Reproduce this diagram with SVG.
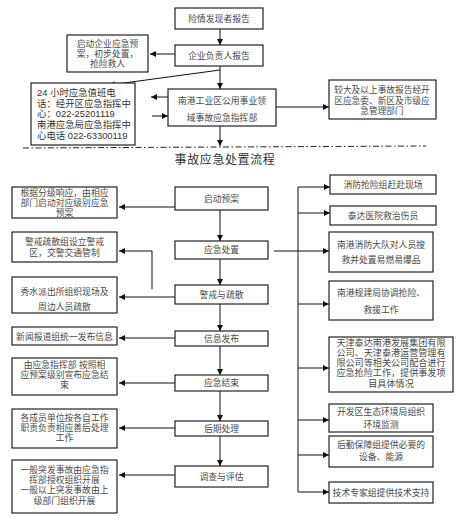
<svg xmlns="http://www.w3.org/2000/svg" width="476" height="518" viewBox="0 0 476 518">
<defs>
<marker id="ah" viewBox="0 0 8 8" refX="8" refY="4" markerWidth="7" markerHeight="6" markerUnits="userSpaceOnUse" orient="auto"><path d="M0,0 L8,4 L0,8 z" fill="#111"/></marker>
<style>
.b{fill:#fff;stroke:#222;stroke-width:1.2}
.t{font-family:"Liberation Sans","Noto Sans CJK SC",sans-serif;font-size:8.8px;fill:#4a4a4a;text-anchor:middle}
.l{text-anchor:start;fill:#333;font-size:9.4px}
.c{fill:none;stroke:#111;stroke-width:1}
.a{marker-end:url(#ah)}
.title{font-family:"Liberation Sans","Noto Sans CJK SC",sans-serif;font-size:12px;fill:#333;text-anchor:middle;letter-spacing:0.6px}
</style>
</defs>
<rect width="476" height="518" fill="#fff"/>
<g id="connectors">
<line class="c a" x1="220" y1="29" x2="220" y2="45"/>
<line class="c a" x1="175" y1="54" x2="150" y2="54"/>
<line class="c a" x1="220" y1="66" x2="220" y2="89"/>
<line class="c a" x1="220" y1="70" x2="109" y2="85"/>
<line class="c a" x1="168" y1="97" x2="151" y2="97"/>
<line class="c a" x1="152" y1="116" x2="168" y2="116"/>
<line class="c a" x1="276" y1="107" x2="329" y2="107"/>
<line class="c a" x1="220" y1="126" x2="220" y2="146"/>
<line x1="23" y1="148" x2="426" y2="146" stroke="#222" stroke-width="1" stroke-dasharray="6 2.5 1.5 2.5"/>
<line class="c a" x1="220" y1="210" x2="220" y2="241"/>
<line class="c a" x1="220" y1="259" x2="220" y2="285"/>
<line class="c a" x1="220" y1="304" x2="220" y2="331"/>
<line class="c a" x1="220" y1="346" x2="220" y2="375"/>
<line class="c a" x1="220" y1="391" x2="220" y2="421"/>
<line class="c a" x1="220" y1="436" x2="220" y2="466"/>
<line class="c a" x1="175" y1="207" x2="119" y2="207"/>
<polyline class="c a" points="152,289 152,251 119,251"/>
<line class="c a" x1="175" y1="297" x2="119" y2="297"/>
<line class="c a" x1="175" y1="338" x2="119" y2="338"/>
<line class="c a" x1="175" y1="383" x2="119" y2="383"/>
<line class="c a" x1="175" y1="428" x2="119" y2="428"/>
<line class="c a" x1="175" y1="475" x2="119" y2="475"/>
<line class="c" x1="298" y1="187" x2="298" y2="492"/>
<line class="c a" x1="298" y1="187" x2="330" y2="187"/>
<line class="c a" x1="298" y1="213" x2="330" y2="213"/>
<line class="c a" x1="274" y1="251" x2="329" y2="251"/>
<line class="c a" x1="298" y1="304" x2="329" y2="304"/>
<line class="c a" x1="298" y1="368" x2="329" y2="368"/>
<line class="c a" x1="298" y1="420" x2="329" y2="420"/>
<line class="c a" x1="298" y1="455" x2="329" y2="455"/>
<line class="c a" x1="298" y1="492" x2="329" y2="492"/>
</g>
<g id="n-report"><rect class="b" x="175" y="8" width="88" height="21"/><text class="t" x="219" y="22">险情发现者报告</text></g>
<g id="n-enterprise"><rect class="b" x="175" y="45" width="88" height="21"/><text class="t" x="219" y="59">企业负责人报告</text></g>
<g id="n-startplan"><rect class="b" x="67" y="35" width="81" height="37"/>
<text class="t" x="107.5" y="46.5">启动企业应急预</text><text class="t" x="107.5" y="56.8">案，初步处置，</text><text class="t" x="107.5" y="67.1">抢险救人</text></g>
<g id="n-hotline"><rect class="b" x="31" y="83" width="104" height="62"/>
<text class="t l" x="37" y="96">24 小时应急值班电</text>
<text class="t l" x="37" y="106.7">话：经开区应急指挥中</text>
<text class="t l" x="37" y="117.4">心：022-25201119</text>
<text class="t l" x="37" y="128.1">南港应急局应急指挥中</text>
<text class="t l" x="37" y="138.8">心电话 022-63300119</text></g>
<g id="n-command"><rect class="b" x="168" y="89" width="108" height="37"/>
<text class="t" x="222" y="103.5">南港工业区公用事业领</text><text class="t" x="222" y="120.5">域事故应急指挥部</text></g>
<g id="n-major"><rect class="b" x="329" y="80" width="107" height="39"/>
<text class="t" x="382" y="93.3" style="font-size:8.7px">较大及以上事故报告经开</text><text class="t" x="382" y="103.5" style="font-size:8.7px">区应急委、新区及市级应</text><text class="t" x="382" y="113.7" style="font-size:8.7px">急管理部门</text></g>
<text class="title" x="225" y="164">事故应急处置流程</text>
<g id="s1"><rect class="b" x="175" y="187" width="93" height="23"/><text class="t" x="221.5" y="201.5">启动预案</text></g>
<g id="s2"><rect class="b" x="175" y="241" width="93" height="18"/><text class="t" x="221.5" y="253">应急处置</text></g>
<g id="s3"><rect class="b" x="175" y="285" width="93" height="19"/><text class="t" x="221.5" y="297.5">警戒与疏散</text></g>
<g id="s4"><rect class="b" x="175" y="331" width="93" height="15"/><text class="t" x="221.5" y="341.5">信息发布</text></g>
<g id="s5"><rect class="b" x="175" y="375" width="93" height="16"/><text class="t" x="221.5" y="386">应急结束</text></g>
<g id="s6"><rect class="b" x="175" y="421" width="93" height="15"/><text class="t" x="221.5" y="431.5">后期处理</text></g>
<g id="s7"><rect class="b" x="175" y="466" width="93" height="21"/><text class="t" x="221.5" y="479.5">调查与评估</text></g>
<g id="l1"><rect class="b" x="12" y="187" width="105" height="31"/>
<text class="t" x="64.5" y="195.5">根据分级响应，由相应</text><text class="t" x="64.5" y="205.6">部门启动对应级别应急</text><text class="t" x="64.5" y="215.7">预案</text></g>
<g id="l2"><rect class="b" x="12" y="232" width="105" height="30"/>
<text class="t" x="64.5" y="245">警戒疏散组设立警戒</text><text class="t" x="64.5" y="256">区，交警交通管制</text></g>
<g id="l3"><rect class="b" x="12" y="277" width="105" height="36"/>
<text class="t" x="64.5" y="295">秀水派出所组织现场及</text><text class="t" x="64.5" y="310">周边人员疏散</text></g>
<g id="l4"><rect class="b" x="12" y="327" width="105" height="18"/><text class="t" x="64.5" y="339.5">新闻报道组统一发布信息</text></g>
<g id="l5"><rect class="b" x="12" y="358" width="105" height="37"/>
<text class="t" x="64.5" y="368">由应急指挥部 按照相</text><text class="t" x="64.5" y="378.2">应预案级别宣布应急结</text><text class="t" x="64.5" y="388.4">束</text></g>
<g id="l6"><rect class="b" x="12" y="409" width="105" height="39"/>
<text class="t" x="64.5" y="421">各成员单位按各自工作</text><text class="t" x="64.5" y="431.2">职责负责相应善后处理</text><text class="t" x="64.5" y="441.4">工作</text></g>
<g id="l7"><rect class="b" x="12" y="460" width="105" height="53"/>
<text class="t" x="64.5" y="473">一般突发事故由应急指</text><text class="t" x="64.5" y="483.2">挥部授权组织开展</text><text class="t" x="64.5" y="493.4">一般以上突发事故由上</text><text class="t" x="64.5" y="503.6">级部门组织开展</text></g>
<g id="r1"><rect class="b" x="330" y="175" width="106" height="19"/><text class="t" x="383" y="188">消防抢险组赶赴现场</text></g>
<g id="r2"><rect class="b" x="330" y="206" width="106" height="19"/><text class="t" x="383" y="219">泰达医院救治伤员</text></g>
<g id="r3"><rect class="b" x="329" y="232" width="104" height="40"/>
<text class="t" x="381" y="248">南港消防大队对人员搜</text><text class="t" x="381" y="263">救并处置易燃易爆品</text></g>
<g id="r4"><rect class="b" x="329" y="281" width="104" height="39"/>
<text class="t" x="381" y="296">南港规建局协调抢险、</text><text class="t" x="381" y="313">救援工作</text></g>
<g id="r5"><rect class="b" x="329" y="337" width="124" height="55"/>
<text class="t" x="391" y="345.5" style="font-size:9.1px">天津泰达南港发展集团有限</text><text class="t" x="391" y="355.8" style="font-size:9.1px">公司、天津泰港运营管理有</text><text class="t" x="391" y="366.1" style="font-size:9.1px">限公司等相关公司配合进行</text><text class="t" x="391" y="376.4" style="font-size:9.1px">应急抢险工作，提供事发项</text><text class="t" x="391" y="386.7" style="font-size:9.1px">目具体情况</text></g>
<g id="r6"><rect class="b" x="329" y="404" width="104" height="28"/>
<text class="t" x="381" y="415">开发区生态环境局组织</text><text class="t" x="381" y="428">环境监测</text></g>
<g id="r7"><rect class="b" x="329" y="436" width="104" height="31"/>
<text class="t" x="381" y="448">后勤保障组提供必要的</text><text class="t" x="381" y="460">设备、能源</text></g>
<g id="r8"><rect class="b" x="329" y="482" width="104" height="21"/><text class="t" x="381" y="496">技术专家组提供技术支持</text></g>
</svg>
